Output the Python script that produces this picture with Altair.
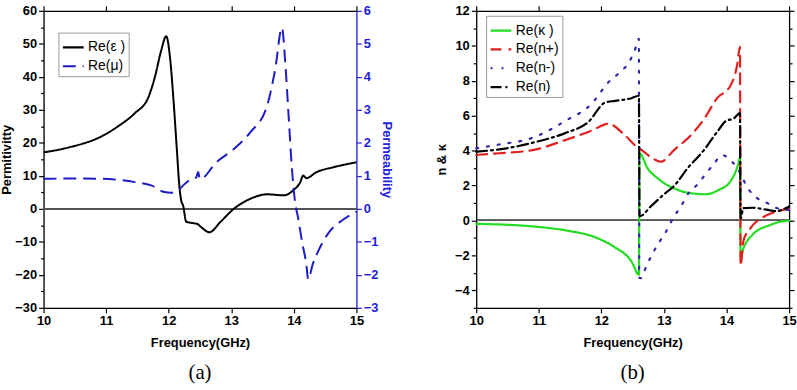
import altair as alt
import pandas as pd

# ---------------- data: panel (a) ----------------
f_eps = [10.0, 10.4, 10.93, 11.19, 11.46, 11.67, 11.78, 11.88, 11.96, 12.02, 12.08, 12.13, 12.17,
         12.2, 12.23, 12.28, 12.41, 12.46, 12.51, 12.65, 12.83, 13.04, 13.3, 13.57, 13.84, 13.99,
         14.1, 14.15, 14.2, 14.36, 14.63, 15.0]
eps = [17.1, 18.6, 22.0, 25.0, 29.0, 33.6, 40.0, 48.0, 52.3, 46.0, 32.0, 18.0, 7.0,
       2.5, 1.0, -3.9, -4.4, -4.6, -5.4, -7.1, -3.9, 0.0, 3.0, 4.4, 4.1, 5.6,
       8.0, 10.1, 9.3, 11.1, 12.6, 14.1]

f_mu = [10.0, 10.5, 10.93, 11.46, 11.72, 11.93, 12.04, 12.15, 12.26, 12.36, 12.44, 12.47, 12.5,
        12.76, 13.04, 13.3, 13.57, 13.7, 13.81, 13.86, 13.92, 13.97, 14.02, 14.07, 14.13, 14.2,
        14.23, 14.3, 14.4, 14.57, 14.78, 15.0]
mu = [0.91, 0.92, 0.91, 0.81, 0.71, 0.51, 0.49, 0.56, 0.76, 0.9, 0.95, 1.12, 0.9,
      1.41, 1.81, 2.31, 3.11, 4.21, 5.49, 4.5, 2.7, 1.2, 0.2, -0.29, -0.99, -1.69,
      -2.14, -1.69, -1.24, -0.69, -0.34, -0.09]

# ---------------- data: panel (b) ----------------
f_k = [10.0, 10.9, 11.42, 11.95, 12.2, 12.48, 12.6, 12.61, 12.74, 12.9, 13.22, 13.5, 13.67,
       13.88, 14.06, 14.19, 14.215, 14.225, 14.27, 14.42, 14.69, 14.95, 15.0]
k = [-0.19, -0.34, -0.56, -1.03, -1.5, -2.34, -3.1, 3.85, 2.98, 2.41, 1.75, 1.53, 1.5,
     1.76, 2.23, 3.26, 3.6, -2.1, -1.6, -0.8, -0.27, -0.02, -0.01]

f_np = [10.0, 10.37, 10.9, 11.42, 11.85, 12.06, 12.11, 12.16, 12.37, 12.6, 12.61, 12.8, 12.95,
        13.16, 13.43, 13.64, 13.85, 14.06, 14.17, 14.215, 14.225, 14.27, 14.38, 14.59, 14.75, 15.0]
n_plus = [3.75, 3.85, 4.03, 4.6, 5.16, 5.5, 5.55, 5.5, 4.9, 4.13, 4.11, 3.6, 3.36,
          4.03, 4.88, 5.8, 7.0, 7.7, 8.9, 9.94, -2.6, -1.17, -0.45, 0.2, 0.45, 0.68]

f_nm = [10.0, 10.37, 10.9, 11.42, 11.85, 12.11, 12.27, 12.43, 12.53, 12.6, 12.605, 12.63, 12.72,
        12.82, 12.93, 13.03, 13.14, 13.27, 13.4, 13.51, 13.64, 13.8, 13.93, 14.09, 14.19, 14.34,
        14.49, 14.65, 14.8, 15.0]
n_minus = [4.13, 4.35, 4.73, 5.69, 6.7, 7.9, 8.4, 9.0, 9.7, 10.4, -3.28, -3.3, -2.6,
           -1.88, -1.22, -0.66, 0.09, 0.8, 1.6, 1.97, 2.53, 3.25, 3.74, 3.36, 2.9, 1.85,
           1.28, 1.0, 0.71, 0.6]

f_n = [10.0, 10.37, 10.9, 11.42, 11.79, 12.06, 12.22, 12.48, 12.6, 12.61, 12.8, 13.0, 13.16,
       13.38, 13.64, 13.85, 14.0, 14.11, 14.215, 14.225, 14.27, 14.42, 14.64, 14.8, 14.95, 15.0]
n_re = [3.94, 4.07, 4.45, 5.0, 5.63, 6.75, 6.85, 7.0, 7.14, 0.24, 0.84, 1.5, 1.97,
        3.0, 4.03, 5.07, 5.72, 5.82, 6.15, 0.1, 0.71, 0.73, 0.62, 0.53, 0.71, 0.8]

# ---------------- ticks / labels ----------------
x_ticks = [10, 10.5, 11, 11.5, 12, 12.5, 13, 13.5, 14, 14.5, 15]
eps_ticks = [-30, -25, -20, -15, -10, -5, 0, 5, 10, 15, 20, 25, 30, 35, 40, 45, 50, 55, 60]
mu_ticks = [-3, -2.5, -2, -1.5, -1, -0.5, 0, 0.5, 1, 1.5, 2, 2.5, 3, 3.5, 4, 4.5, 5, 5.5, 6]
nk_ticks = [-5, -4, -3, -2, -1, 0, 1, 2, 3, 4, 5, 6, 7, 8, 9, 10, 11, 12]

names_a = ["Re(ε )", "Re(μ)"]
colors_a = ["#000000", "#1c1cc8"]
dash_a = [[1, 0], [13, 7]]

names_b = ["Re(κ )", "Re(n+)", "Re(n-)", "Re(n)"]
colors_b = ["#22dd22", "#e0201e", "#2a2aa8", "#000000"]
dash_b = [[1, 0], [11, 7], [2, 9], [11, 4, 2, 4]]

FONT = "Liberation Sans"
W, H = 316, 300


def frame(f, v, name):
    return pd.DataFrame({"f": f, "v": v, "s": name, "i": list(range(len(f)))})


def axis(orient, values, step, color="#000000", labels=True, title=None, **kw):
    test = f"abs(datum.value % {step}) < 1e-6"
    return alt.Axis(
        orient=orient, values=values, title=title, labels=labels, format="d",
        labelExpr=f"{test} ? datum.label : ''",
        tickSize={"condition": {"test": test, "value": 5}, "value": 3},
        tickColor=color, domainColor=color, labelColor=color, titleColor=color,
        labelFont=FONT, labelFontSize=13, labelFontWeight="bold", labelFlush=False,
        titleFont=FONT, titleFontSize=13, titleFontWeight="bold",
        grid=False, labelPadding=2, labelOverlap=False, domainWidth=1.3, tickWidth=1.2,
        **kw)


def legend(x, y):
    return alt.Legend(orient="none", legendX=x, legendY=y, title=None, symbolType="stroke",
                      symbolSize=440, symbolStrokeWidth=2.2, labelFont=FONT, labelFontSize=14,
                      labelLimit=200, strokeColor="#999999", padding=3, rowPadding=0,
                      fillColor="white", labelOffset=3)


x_scale = alt.Scale(domain=[10, 15], nice=False, zero=False)

# ---------- panel (a) ----------
eps_df = frame(f_eps, eps, names_a[0])
mu_df = frame(f_mu, mu, names_a[1])
eps_scale = alt.Scale(domain=[-30, 60], nice=False, zero=False)
mu_scale = alt.Scale(domain=[-3, 6], nice=False, zero=False)

col_a = alt.Color("sa:N", scale=alt.Scale(domain=names_a, range=colors_a), legend=legend(15, 22))
dsh_a = alt.StrokeDash("sa:N", scale=alt.Scale(domain=names_a, range=dash_a), legend=legend(15, 22))

zero_a = alt.Chart(eps_df).mark_rule(color="#555555", strokeWidth=1).encode(
    y=alt.YDatum(0, scale=eps_scale, axis=None))

eps_line = alt.Chart(eps_df.rename(columns={"s": "sa"})).mark_line(
    strokeWidth=2, interpolate="monotone").encode(
    x=alt.X("f:Q", scale=x_scale,
            axis=axis("bottom", x_ticks, 1, title="Frequency(GHz)", titlePadding=9)),
    y=alt.Y("v:Q", scale=eps_scale, axis=axis("left", eps_ticks, 10, title="Permitivitty", titlePadding=1)),
    color=col_a, strokeDash=dsh_a, order="i:Q")

mu_line = alt.Chart(mu_df.rename(columns={"s": "sa"})).mark_line(
    strokeWidth=2, interpolate="monotone").encode(
    x=alt.X("f:Q", scale=x_scale, axis=None),
    y=alt.Y("v:Q", scale=mu_scale,
            axis=axis("right", mu_ticks, 1, color="#2222dd", title="Permeability", titlePadding=2)),
    color=col_a, strokeDash=dsh_a, order="i:Q")

top_a = alt.Chart(eps_df).mark_point(opacity=0).encode(
    x=alt.X("f:Q", scale=x_scale, axis=axis("top", x_ticks, 1, labels=False)),
    y=alt.Y("v:Q", scale=eps_scale, axis=None))

panel_a = alt.layer(zero_a, eps_line, mu_line, top_a).resolve_scale(
    x="independent", y="independent").properties(
    width=W, height=H,
    title=alt.TitleParams("(a)", orient="bottom", font="Liberation Serif", fontSize=21,
                          fontWeight="normal", offset=13, anchor="middle"))

# ---------- panel (b) ----------
b_df = pd.concat([frame(f_k, k, names_b[0]), frame(f_np, n_plus, names_b[1]),
                  frame(f_nm, n_minus, names_b[2]), frame(f_n, n_re, names_b[3])])
b_df = b_df.rename(columns={"s": "sb"})
nk_scale = alt.Scale(domain=[-5, 12], nice=False, zero=False)

zero_b = alt.Chart(b_df).mark_rule(color="#555555", strokeWidth=1).encode(
    y=alt.YDatum(0, scale=nk_scale, axis=None))

b_lines = alt.Chart(b_df).mark_line(strokeWidth=2.2, strokeCap="round", interpolate="monotone").encode(
    x=alt.X("f:Q", scale=x_scale,
            axis=axis("bottom", x_ticks, 1, title="Frequency(GHz)", titlePadding=9)),
    y=alt.Y("v:Q", scale=nk_scale, axis=axis("left", nk_ticks, 2, title="n & κ", titlePadding=6)),
    color=alt.Color("sb:N", scale=alt.Scale(domain=names_b, range=colors_b), legend=legend(10, 5)),
    strokeDash=alt.StrokeDash("sb:N", scale=alt.Scale(domain=names_b, range=dash_b), legend=legend(10, 5)),
    order="i:Q")

top_b = alt.Chart(b_df).mark_point(opacity=0).encode(
    x=alt.X("f:Q", scale=x_scale, axis=axis("top", x_ticks, 1, labels=False)),
    y=alt.Y("v:Q", scale=nk_scale, axis=axis("right", nk_ticks, 2, labels=False)))

panel_b = alt.layer(zero_b, b_lines, top_b).resolve_scale(
    x="independent", y="independent").properties(
    width=W, height=H,
    title=alt.TitleParams("(b)", orient="bottom", font="Liberation Serif", fontSize=21,
                          fontWeight="normal", offset=13, anchor="middle"))

chart = alt.hconcat(panel_a, panel_b, spacing=41).resolve_scale(
    color="independent", strokeDash="independent").resolve_legend(
    color="independent", strokeDash="independent").properties(
    padding={"left": 0, "top": 2, "right": 0, "bottom": 0}
).configure_view(stroke="#000000", strokeWidth=1.3).configure(background="white")

chart.save("out.html", embed_options={"renderer": "svg", "actions": False})
